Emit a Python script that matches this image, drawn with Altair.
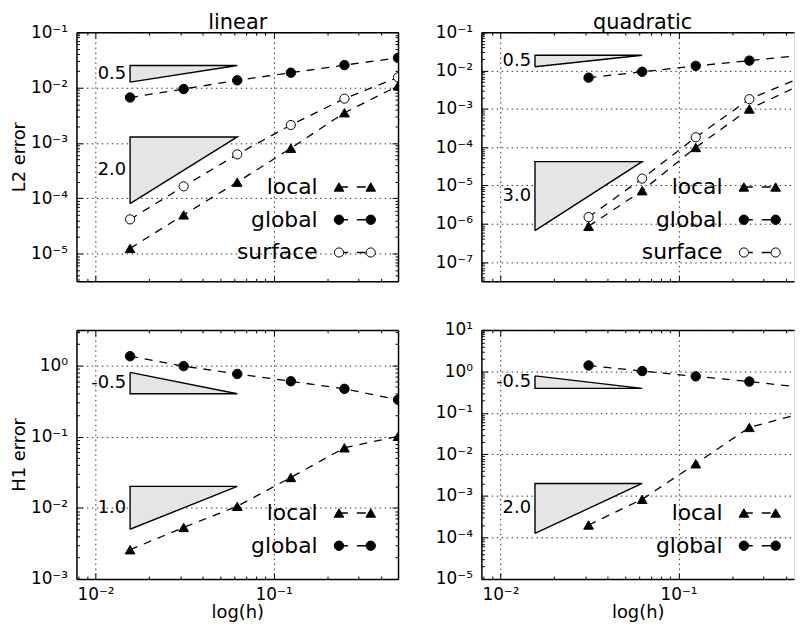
import math
import altair as alt
import pandas as pd

# ---------------- data ----------------
h_linear = [1/64, 1/32, 1/16, 1/8, 1/4, 1/2]
h_quadratic = [1/32, 1/16, 1/8, 1/4, 1/2]

l2_linear_local = [1.24e-5, 5.0e-5, 1.95e-4, 8.0e-4, 3.5e-3, 1.07e-2]
l2_linear_global = [6.6e-3, 9.4e-3, 1.35e-2, 1.85e-2, 2.54e-2, 3.43e-2]
l2_linear_surface = [4.15e-5, 1.64e-4, 6.2e-4, 2.1e-3, 6.3e-3, 1.53e-2]

l2_quadratic_local = [8.6e-7, 7.3e-6, 9.8e-5, 9.9e-4, 4.5e-3]
l2_quadratic_global = [6.5e-3, 9.25e-3, 1.32e-2, 1.81e-2, 2.5e-2]
l2_quadratic_surface = [1.5e-6, 1.51e-5, 1.81e-4, 1.79e-3, 6.9e-3]

h1_linear_local = [2.58e-3, 5.3e-3, 1.05e-2, 2.67e-2, 6.97e-2, 1.01e-1]
h1_linear_global = [1.35, 0.98, 0.76, 0.60, 0.47, 0.33]

h1_quadratic_local = [2.0e-4, 8.3e-4, 5.96e-3, 4.48e-2, 9.9e-2]
h1_quadratic_global = [1.39, 1.02, 0.76, 0.57, 0.41]

# slope triangles (left x, right x; top and bottom of the vertical side)
tri_x = [1/64, 1/16]
tri_l2_linear_labels = ["0.5", "2.0"]
tri_l2_linear_top = [0.025, 1.28e-3]
tri_l2_linear_bottom = [0.0125, 8.0e-5]
tri_l2_quadratic_labels = ["0.5", "3.0"]
tri_l2_quadratic_top = [0.025, 4.2e-5]
tri_l2_quadratic_bottom = [0.0125, 6.6e-7]
tri_h1_linear_labels = ["-0.5", "1.0"]
tri_h1_linear_top = [0.8, 0.02]
tri_h1_linear_bottom = [0.4, 0.005]
tri_h1_quadratic_labels = ["-0.5", "2.0"]
tri_h1_quadratic_top = [0.78, 2.0e-3]
tri_h1_quadratic_bottom = [0.39, 1.25e-4]

series_names = ["local", "global", "surface"]
column_titles = ["linear", "quadratic"]
row_titles = ["L2 error", "H1 error"]
x_title = "log(h)"

# ---------------- styling ----------------
FONT = "DejaVu Sans"
XMIN = 1 / 128
SUP = {"-": "\u207b", "0": "\u2070", "1": "\u00b9", "2": "\u00b2", "3": "\u00b3",
       "4": "\u2074", "5": "\u2075", "6": "\u2076", "7": "\u2077", "8": "\u2078", "9": "\u2079"}


def sup(e):
    return "".join(SUP[c] for c in str(e))


def label_expr(exps):
    parts = [f"abs(log(datum.value)/LN10 - ({e})) < 0.01 ? '10{sup(e)}'" for e in exps]
    return " : ".join(parts) + " : ''"


def minor_values(lo, hi):
    vals = []
    for k in range(math.floor(math.log10(lo)) - 1, math.ceil(math.log10(hi)) + 1):
        for m in range(2, 10):
            v = m * 10.0 ** k
            if lo * 1.0001 <= v <= hi * 0.9999:
                vals.append(v)
    return vals


def major_exps(lo, hi):
    return [k for k in range(math.ceil(math.log10(lo) - 1e-9), math.floor(math.log10(hi) + 1e-9) + 1)]


def tick_axis(orient, values, size):
    return alt.Axis(orient=orient, values=values, tickSize=size, offset=-size, domain=False,
                    labels=False, grid=False, ticks=True, tickColor="black", tickWidth=1,
                    title=None, minExtent=0)


def make_panel(h, series, tri_labels, tri_tops, tri_bottoms, yexp, xmax, width, height,
               title, ytitle, show_x, right_side, legend_rows):
    ylo, yhi = 10.0 ** yexp[0], 10.0 ** yexp[1]
    xs = alt.Scale(type="log", domain=[XMIN, xmax], nice=False)
    ys = alt.Scale(type="log", domain=[ylo, yhi], nice=False)

    rows = []
    for name, vals in series:
        for hv, ev in zip(h, vals):
            rows.append({"series": name, "h": hv, "err": ev})
    df = pd.DataFrame(rows)
    names = [n for n, _ in series]
    inside = df[(df["h"] < xmax * 0.9) & (df["err"] < yhi * 0.9) & (df["err"] > ylo * 1.1)].head(1)

    xexps = major_exps(XMIN, xmax)
    yexps = major_exps(ylo, yhi)
    xmaj = [10.0 ** e for e in xexps]
    ymaj = [10.0 ** e for e in yexps]
    xmin_v = minor_values(XMIN, xmax)
    ymin_v = minor_values(ylo, yhi)

    grid = dict(grid=True, gridColor="black", gridDash=[1.5, 3.5], gridWidth=0.9, gridOpacity=0.9)

    xkw = dict(orient="bottom", values=xmaj, ticks=False, tickSize=0, domain=True,
               domainColor="black", domainWidth=1.5, labelFlush=False, minExtent=0, **grid)
    if show_x:
        xkw.update(labels=True, labelExpr=label_expr(xexps), labelFont=FONT, labelFontSize=17,
                   labelColor="black", labelPadding=8, title=x_title, titleFont=FONT,
                   titleFontSize=18, titleFontWeight="normal", titleColor="black", titlePadding=1)
    else:
        xkw.update(labels=False, title=None)

    ykw = dict(orient="left", values=ymaj, ticks=False, tickSize=0, domain=True,
               domainColor="black", domainWidth=1.5, labelFlush=False, labels=True,
               labelExpr=label_expr(yexps), labelFont=FONT, labelFontSize=17,
               labelColor="black", labelPadding=9, **grid)
    if ytitle:
        ykw.update(title=ytitle, titleFont=FONT, titleFontSize=18, titleFontWeight="normal",
                   titleColor="black", titleX=-52, titleBaseline="alphabetic")
    else:
        ykw.update(title=None)

    topkw = dict(orient="top", domain=True, domainColor="black", domainWidth=1.5, ticks=False,
                 labels=False, grid=False, values=xmaj, minExtent=0)
    if title:
        topkw.update(title=title, titleFont=FONT, titleFontSize=21, titleFontWeight="normal",
                     titleColor="black", titleX=162, titleY=-4, titleBaseline="alphabetic",
                     titleAlign="center")
    else:
        topkw.update(title=None)

    def carrier(xaxis, yaxis):
        return alt.Chart(inside).mark_point(opacity=0, size=1, clip=True).encode(
            x=alt.X("h:Q", scale=xs, axis=xaxis),
            y=alt.Y("err:Q", scale=ys, axis=yaxis),
        )

    layers = [
        carrier(alt.Axis(**xkw), alt.Axis(**ykw)),
        carrier(tick_axis("bottom", xmaj, 6), tick_axis("left", ymaj, 6)),
        carrier(tick_axis("bottom", xmin_v, 3), tick_axis("left", ymin_v, 3)),
        carrier(tick_axis("top", xmaj, 6), tick_axis("right", ymaj, 6) if right_side else None),
        carrier(tick_axis("top", xmin_v, 3), tick_axis("right", ymin_v, 3) if right_side else None),
        carrier(
            alt.Axis(**topkw),
            alt.Axis(orient="right", domain=True, domainColor="black", domainWidth=1.5,
                     ticks=False, labels=False, grid=False, title=None, values=ymaj, minExtent=0)
            if right_side else None,
        ),
    ]

    # slope triangles
    area_rows, outline_rows, label_rows = [], [], []
    x0, x1 = tri_x
    for i, (lab, top, bot) in enumerate(zip(tri_labels, tri_tops, tri_bottoms)):
        if lab.startswith("-"):
            upper, lower = [top, bot], [bot, bot]
            poly = [(x0, top), (x0, bot), (x1, bot), (x0, top)]
        else:
            upper, lower = [top, top], [bot, top]
            poly = [(x0, bot), (x0, top), (x1, top), (x0, bot)]
        for xv, u, l in zip(tri_x, upper, lower):
            area_rows.append({"tri": i, "h": xv, "upper": u, "lower": l})
        for k, (xv, yv) in enumerate(poly):
            outline_rows.append({"tri": i, "k": k, "h": xv, "err": yv})
        label_rows.append({"tri": i, "h": x0, "err": math.sqrt(top * bot), "label": lab})

    xa = alt.X("h:Q", scale=xs, axis=None)
    layers.append(
        alt.Chart(pd.DataFrame(area_rows)).mark_area(fill="#e5e5e5", opacity=1, clip=True).encode(
            x=xa, y=alt.Y("upper:Q", scale=ys, axis=None), y2="lower:Q", detail="tri:N"))
    layers.append(
        alt.Chart(pd.DataFrame(outline_rows)).mark_line(color="black", strokeWidth=1.4, clip=True).encode(
            x=xa, y=alt.Y("err:Q", scale=ys, axis=None), order="k:Q", detail="tri:N"))
    layers.append(
        alt.Chart(pd.DataFrame(label_rows)).mark_text(
            align="right", baseline="middle", dx=-4, font=FONT, fontSize=18, color="black").encode(
            x=xa, y=alt.Y("err:Q", scale=ys, axis=None), text="label:N"))

    shape = alt.Shape("series:N", scale=alt.Scale(domain=series_names,
                      range=["triangle-up", "circle", "circle"]), legend=None)
    fill = alt.Fill("series:N", scale=alt.Scale(domain=series_names,
                    range=["black", "black", "white"]), legend=None)
    size = alt.Size("series:N", scale=alt.Scale(domain=series_names, range=[95, 85, 75]),
                    legend=None)

    layers.append(
        alt.Chart(df).mark_line(color="black", strokeWidth=1.3, strokeDash=[8, 7], clip=True).encode(
            x=xa, y=alt.Y("err:Q", scale=ys, axis=None), detail="series:N"))
    layers.append(
        alt.Chart(df).mark_point(filled=True, stroke="black", strokeWidth=1, opacity=1, clip=True).encode(
            x=xa, y=alt.Y("err:Q", scale=ys, axis=None), shape=shape, fill=fill, size=size))

    main = alt.layer(*layers).resolve_axis(x="independent", y="independent")

    # legend (matplotlib style: label, marker, dashed line, marker)
    leg = alt.Chart(pd.DataFrame({"series": names}))
    ly = alt.Y("series:N", scale=alt.Scale(type="point", domain=names, range=legend_rows, padding=0),
               axis=None)
    legend = alt.layer(
        leg.mark_rule(color="black", strokeWidth=1.3, strokeDash=[9, 9]).encode(
            x=alt.value(264.5), x2=alt.value(296.5), y=ly),
        leg.mark_point(filled=True, stroke="black", strokeWidth=1, opacity=1).encode(
            x=alt.value(264.5), y=ly, shape=shape, fill=fill, size=size),
        leg.mark_point(filled=True, stroke="black", strokeWidth=1, opacity=1).encode(
            x=alt.value(296.5), y=ly, shape=shape, fill=fill, size=size),
        leg.mark_text(align="right", baseline="middle", font=FONT, fontSize=22, color="black").encode(
            x=alt.value(243), y=ly, text="series:N"),
    )

    panel = alt.layer(main, legend).resolve_scale(y="independent").resolve_axis(
        x="independent", y="independent")
    return panel.properties(width=width, height=height)


XMAX_RIGHT = 0.4454
W_LEFT, W_RIGHT = 324, 315
H_PANEL = 251

tl = make_panel(h_linear, [("local", l2_linear_local), ("global", l2_linear_global),
                           ("surface", l2_linear_surface)],
                tri_l2_linear_labels, tri_l2_linear_top, tri_l2_linear_bottom,
                (-5.5, -1), 0.5, W_LEFT, H_PANEL, column_titles[0], row_titles[0], False, True,
                [156.0, 222.0])
tr = make_panel(h_quadratic, [("local", l2_quadratic_local), ("global", l2_quadratic_global),
                              ("surface", l2_quadratic_surface)],
                tri_l2_quadratic_labels, tri_l2_quadratic_top, tri_l2_quadratic_bottom,
                (-7.5, -1), XMAX_RIGHT, W_RIGHT, H_PANEL, column_titles[1], None, False, False,
                [156.0, 222.0])
bl = make_panel(h_linear, [("local", h1_linear_local), ("global", h1_linear_global)],
                tri_h1_linear_labels, tri_h1_linear_top, tri_h1_linear_bottom,
                (-3, 0.5), 0.5, W_LEFT, H_PANEL, None, row_titles[1], True, True,
                [184.5, 217.5])
br = make_panel(h_quadratic, [("local", h1_quadratic_local), ("global", h1_quadratic_global)],
                tri_h1_quadratic_labels, tri_h1_quadratic_top, tri_h1_quadratic_bottom,
                (-5, 1), XMAX_RIGHT, W_RIGHT, H_PANEL, None, None, True, False,
                [184.5, 217.5])

chart = alt.concat(
    tl, tr, bl, br, columns=2, spacing={"row": 49, "column": 84}, bounds="flush",
    padding={"left": 2, "top": 0, "right": 0, "bottom": 0},
).configure_view(stroke=None).configure(background="white")

chart.save("out.html", embed_options={"renderer": "svg", "actions": False})
